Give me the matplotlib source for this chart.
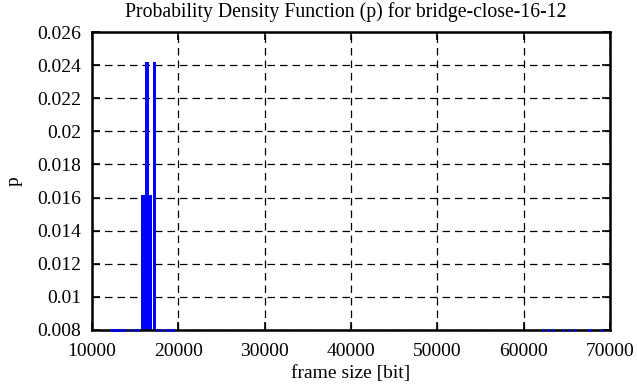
import matplotlib
matplotlib.use("Agg")
import matplotlib.pyplot as plt
import numpy as np

plt.rcParams['font.family'] = ['Liberation Serif', 'DejaVu Serif']

# Data (frame size in bit, probability p)
main_sizes = [15900, 16690, 16370, 17240]
main_p = [0.01613, 0.01613, 0.02419, 0.02419]
main_w = [460, 460, 460, 250]

low_sizes = [12280, 12700, 13010, 13400, 13820, 14520, 14980, 15330,
             17530, 17990, 18570, 18920, 19330,
             62240, 62820, 63400, 64560, 65250, 65950, 67630, 69080]
low_p = [0.0005] * len(low_sizes)

xticks = [10000, 20000, 30000, 40000, 50000, 60000, 70000]
yticks = [0.008, 0.01, 0.012, 0.014, 0.016, 0.018, 0.02, 0.022, 0.024, 0.026]
ytick_labels = ['0.008', '0.01', '0.012', '0.014', '0.016', '0.018', '0.02',
                '0.022', '0.024', '0.026']

ymin, ymax = 0.008, 0.026

fig = plt.figure(figsize=(6.37, 3.87), dpi=100)
ax = fig.add_axes([92/637, 57/387, 518/637, 298/387])

ax.set_xlim(10000, 70000)
ax.set_ylim(ymin, ymax)

# Grid
ax.grid(True, color='black', linestyle=(0, (6, 4)), linewidth=0.9)
ax.set_axisbelow(True)

# Low-probability bins (clipped at the bottom of the plot, like gnuplot)
low_h = np.maximum(np.array(low_p) - ymin, 0)
ax.bar(low_sizes, low_h, width=300, bottom=ymin, color='#0000ff',
       edgecolor='#0000ff', linewidth=2.2, zorder=6, clip_on=False)

# Main bins
for s, p, w in zip(main_sizes, main_p, main_w):
    ax.bar([s], [p - ymin], width=w, bottom=ymin, color='#0000ff',
           edgecolor='#0000ff', linewidth=0, zorder=4)

ax.set_xticks(xticks)
ax.set_xticklabels([str(t) for t in xticks])
ax.set_yticks(yticks)
ax.set_yticklabels(ytick_labels)

ax.tick_params(direction='in', length=6, width=1.2, top=True, right=True,
               labelsize=14, colors='black')
ax.tick_params(axis='x', pad=9)
ax.tick_params(axis='y', pad=8)
for sp in ax.spines.values():
    sp.set_linewidth(1.8)
    sp.set_zorder(5)

ax.set_title('Probability Density Function (p) for bridge-close-16-12',
             fontsize=14.2, pad=11, x=0.49)
ax.set_xlabel('frame size [bit]', fontsize=14, labelpad=4)
ax.set_ylabel('p', fontsize=14, labelpad=10)

fig.savefig('out.png', dpi=100)
